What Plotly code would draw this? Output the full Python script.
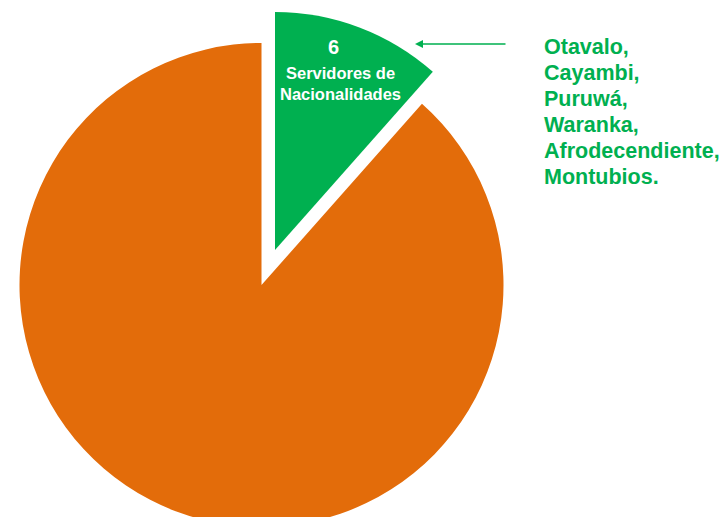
import plotly.graph_objects as go

# ---- data ----
labels = ["Servidores de Nacionalidades", "Otros servidores"]
values = [6, 46]
nacionalidades = ["Otavalo", "Cayambi", "Puruwá", "Waranka", "Afrodecendiente", "Montubios"]

GREEN = "#00B050"
ORANGE = "#E36C0A"
CLEAR = "rgba(0,0,0,0)"

W, H = 726, 530

def px_dom(cx, cy, r):
    return dict(x=[(cx - r) / W, (cx + r) / W],
                y=[1 - (cy + r) / H, 1 - (cy - r) / H])

def px(x):
    return x / W

def py(y):
    return 1 - y / H

common = dict(labels=labels, values=values, sort=False, direction="clockwise",
              rotation=0, textinfo="none", hoverinfo="label+value", showlegend=False)

fig = go.Figure()
# main (orange) part
fig.add_trace(go.Pie(domain=px_dom(261.5, 285, 242),
                     marker=dict(colors=[CLEAR, ORANGE], line=dict(width=0)), **common))
# exploded (green) part
fig.add_trace(go.Pie(domain=px_dom(275, 250, 238),
                     marker=dict(colors=[GREEN, CLEAR], line=dict(width=0)), **common))

FONT = "Arial, Liberation Sans, sans-serif"
base = dict(xref="paper", yref="paper", showarrow=False, xanchor="center", yanchor="middle")
ann = []
ann.append(dict(base, x=px(333), y=py(47), text=f"<b>{values[0]}</b>",
                font=dict(family=FONT, size=20, color="white")))
words = labels[0].split(" ")
label_html = "<b>" + " ".join(words[:2]) + "<br>" + words[2] + "</b>"
ann.append(dict(base, x=px(340), y=py(84), text=label_html,
                font=dict(family=FONT, size=16.5, color="white")))
for i, n in enumerate(nacionalidades):
    punct = "." if i == len(nacionalidades) - 1 else ","
    ann.append(dict(base, x=px(542), y=py(47 + 26 * i), xanchor="left",
                    text=f"<b>{n}{punct}</b>", font=dict(family=FONT, size=21.5, color=GREEN)))
ann.append(dict(x=px(415), y=py(44), xref="paper", yref="paper", text="",
                showarrow=True, ax=92, ay=0, axref="pixel", ayref="pixel",
                arrowhead=2, arrowsize=1, arrowwidth=1.6, arrowcolor=GREEN, standoff=0))

fig.update_layout(width=W, height=H, margin=dict(l=0, r=0, t=0, b=0),
                  paper_bgcolor="white", plot_bgcolor="white", annotations=ann)

fig.write_html("out.html",
               config={"displayModeBar": False},
               post_script="document.body.style.margin='0';document.body.style.overflow='hidden';document.documentElement.style.overflow='hidden';")
